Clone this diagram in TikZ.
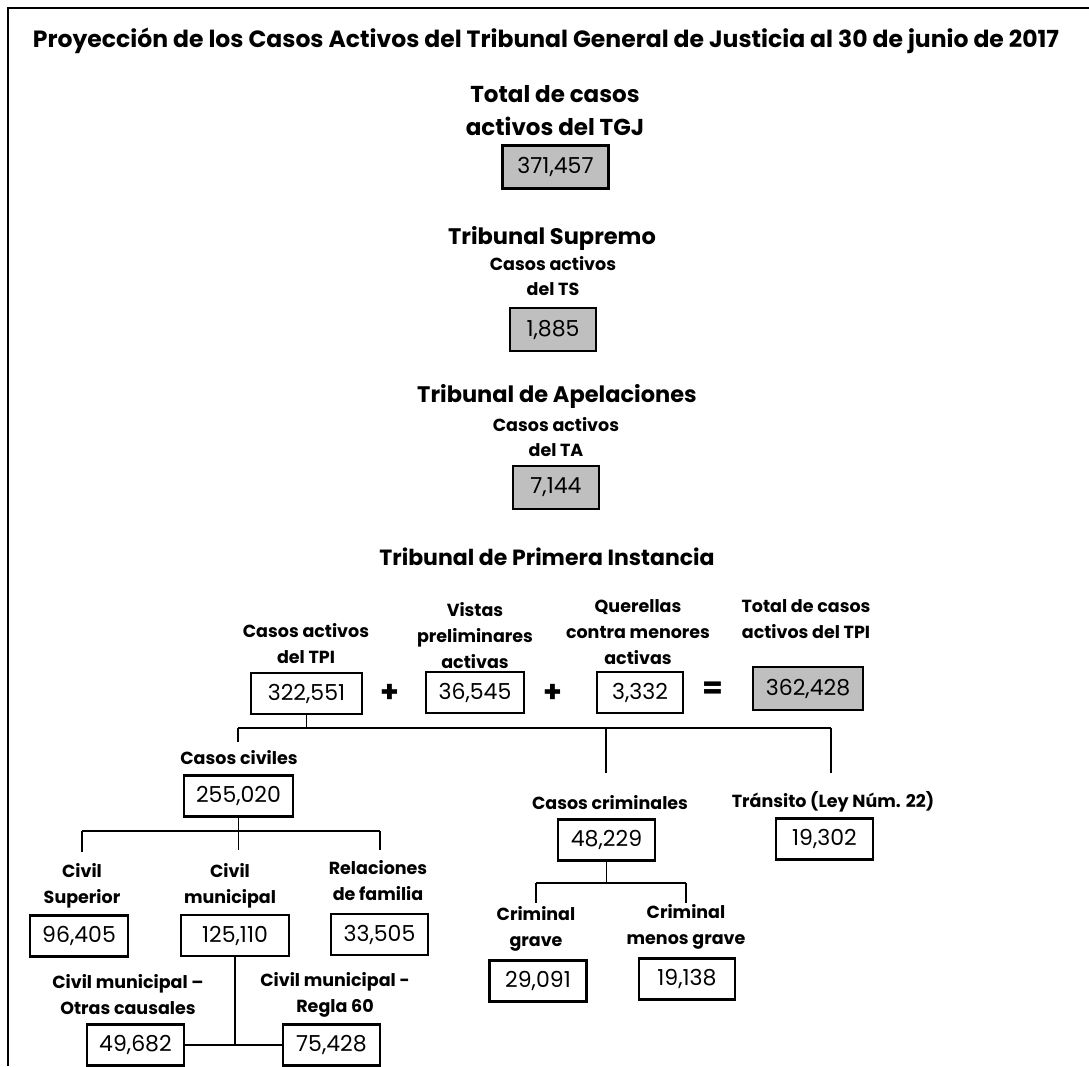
\documentclass[tikz,border=0pt]{standalone}
\usepackage{fontspec}
\setmainfont{Poppins}

\begin{document}
\begin{tikzpicture}[x=1pt,y=-1pt,
    lbl/.style={align=center,inner sep=0pt,font=\bfseries\fontsize{17.5}{26}\selectfont},
    numbox/.style={draw,line width=2.6pt,minimum height=41pt,inner sep=0pt,font=\fontsize{22}{22}\selectfont},
    totbox/.style={numbox,fill=black!25},
    wire/.style={line width=1.7pt}]
    \useasboundingbox (0,0) rectangle (1089,1066);
    \draw[line width=2.4pt] (8,1066) -- (8,8) -- (1089,8);
    \node[lbl,font=\bfseries\fontsize{23.5}{24}\selectfont] (title) at (546,41){Proyección de los Casos Activos del Tribunal General de Justicia al 30 de junio de 2017};
    % TGJ, TS, TA
    \node[lbl,font=\bfseries\fontsize{23}{33}\selectfont] (ltgj) at (555,111){Total de casos\\activos del TGJ};
    \node[totbox,minimum width=106pt,minimum height=43pt] (tgj) at (555.5,167){371,457};
    \node[lbl,font=\bfseries\fontsize{22.5}{24}\selectfont] (hts) at (552,238){Tribunal Supremo};
    \node[lbl,font=\bfseries\fontsize{17.5}{25}\selectfont] (lts) at (553,276){Casos activos\\del TS};
    \node[totbox,minimum width=86pt,minimum height=43pt] (ts) at (553,329.5){1,885};
    \node[lbl,font=\bfseries\fontsize{22.5}{24}\selectfont] (hta) at (557,396){Tribunal de Apelaciones};
    \node[lbl,font=\bfseries\fontsize{17.5}{25}\selectfont] (lta) at (556,437){Casos activos\\del TA};
    \node[totbox,minimum width=86pt,minimum height=43pt] (ta) at (556,487.5){7,144};
    % TPI
    \node[lbl,font=\bfseries\fontsize{22}{24}\selectfont] (htpi) at (547,557){Tribunal de Primera Instancia};
    \node[lbl] (ltpi) at (306,644){Casos activos\\del TPI};
    \node[numbox,minimum width=111pt] (tpi) at (306.5,693.5){322,551};
    \node[lbl,font=\bfseries\fontsize{30}{30}\selectfont] (plusa) at (390,693){+};
    \node[lbl] (lvis) at (475,636){Vistas\\preliminares\\activas};
    \node[numbox,minimum width=98pt] (vis) at (475,692.5){36,545};
    \node[lbl,font=\bfseries\fontsize{30}{30}\selectfont] (plusb) at (553,693){+};
    \node[lbl] (lque) at (638,632){Querellas\\contra menores\\activas};
    \node[numbox,minimum width=86pt] (que) at (640,692.5){3,332};
    \node[lbl,font=\bfseries\fontsize{30}{30}\selectfont] (eq) at (713,690){=};
    \node[lbl] (ltot) at (806,619){Total de casos\\activos del TPI};
    \node[totbox,minimum width=110pt,minimum height=43pt] (tot) at (808,688.5){362,428};
    % civiles
    \node[lbl] (lciv) at (239,758){Casos civiles};
    \node[numbox,minimum width=109pt] (civ) at (238.5,796){255,020};
    \node[lbl] (lsup) at (82,885.5){Civil\\Superior};
    \node[numbox,minimum width=98pt] (sup) at (79,936){96,405};
    \node[lbl] (lmun) at (230,885.5){Civil\\municipal};
    \node[numbox,minimum width=108pt] (mun) at (235,935.5){125,110};
    \node[lbl] (lfam) at (378,881){Relaciones\\de familia};
    \node[numbox,minimum width=97pt] (fam) at (379.5,934.5){33,505};
    \node[lbl] (lotr) at (128,994.5){Civil municipal --\\Otras causales};
    \node[numbox,minimum width=97pt] (otr) at (135.5,1045){49,682};
    \node[lbl] (lreg) at (335,994.5){Civil municipal -\\Regla 60};
    \node[numbox,minimum width=97pt] (reg) at (331.5,1045){75,428};
    % criminales y transito
    \node[lbl] (lcri) at (610,803){Casos criminales};
    \node[numbox,minimum width=97pt] (cri) at (606.5,840){48,229};
    \node[lbl] (lgra) at (536,928.5){Criminal\\grave};
    \node[numbox,minimum width=97pt] (gra) at (538,981){29,091};
    \node[lbl] (lmen) at (686,926.5){Criminal\\menos grave};
    \node[numbox,minimum width=96pt] (men) at (687,979){19,138};
    \node[lbl] (ltra) at (833,802){Tránsito (Ley Núm. 22)};
    \node[numbox,minimum width=97pt] (tra) at (824.5,839){19,302};
    % conectores
    \coordinate (jal) at (238,728); \coordinate (jar) at (831,728);
    \coordinate (ja) at (tpi.south |- jal); \coordinate (jac) at (606,728);
    \draw[wire] (tpi.south) -- (ja); \draw[wire] (jal) -- (jar);
    \draw[wire] (jal) -- (238,742); \draw[wire] (jac) -- (606,773); \draw[wire] (jar) -- (831,773);
    \coordinate (jbl) at (82,831); \coordinate (jbr) at (380,831);
    \draw[wire] (civ.south) -- ++(0,32); \draw[wire] (jbl) -- (jbr);
    \draw[wire] (jbl) -- (82,852); \draw[wire] (jbr) -- (380,850);
    \coordinate (jc) at (mun.south |- otr.east);
    \draw[wire] (mun.south) -- (jc); \draw[wire] (otr.east) -- (reg.west);
    \coordinate (jdl) at (536,883); \coordinate (jdr) at (686,883);
    \coordinate (jd) at (cri.south |- jdl);
    \draw[wire] (cri.south) -- (jd); \draw[wire] (jdl) -- (jdr);
    \draw[wire] (jdl) -- (536,903); \draw[wire] (jdr) -- (686,903);
  \end{tikzpicture}
\end{document}
